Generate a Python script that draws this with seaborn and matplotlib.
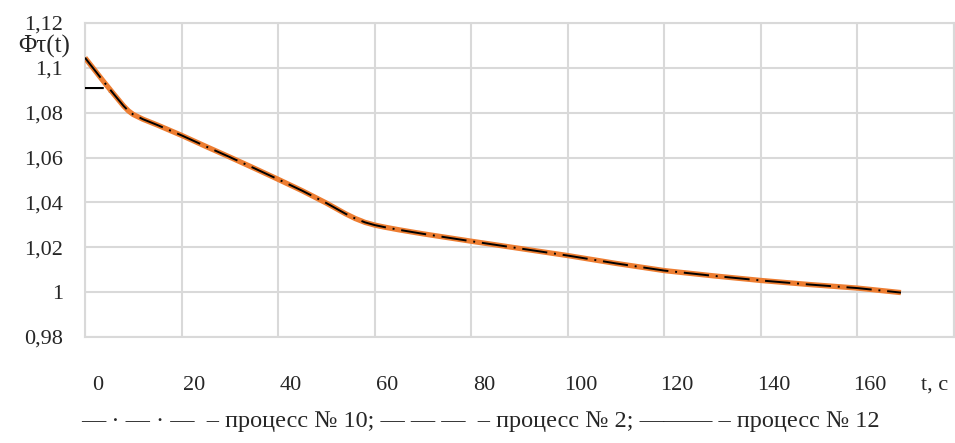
import matplotlib
matplotlib.use("Agg")
import matplotlib.pyplot as plt
import seaborn as sns
import pandas as pd

# ---- data ----
t = [0, 2, 4, 6, 7, 8, 9, 10, 12, 15, 20, 25, 30, 35, 40, 45, 50, 52, 54, 56,
     58, 60, 62, 65, 70, 80, 90, 100, 110, 120, 130, 140, 150, 160, 169]
phi12 = [1.1045, 1.0990, 1.0935, 1.0882, 1.0856, 1.0830, 1.0808, 1.0792, 1.0771,
         1.0745, 1.0699, 1.0650, 1.0602, 1.0553, 1.0503, 1.0452, 1.0397, 1.0373,
         1.0349, 1.0328, 1.0311, 1.0299, 1.0290, 1.0278, 1.0260, 1.0227, 1.0195,
         1.0163, 1.0128, 1.0096, 1.0073, 1.0052, 1.0034, 1.0018, 0.9998]
phi10 = [1.1045, 1.0990, 1.0935, 1.0882, 1.0856, 1.0830, 1.0808, 1.0792, 1.0771,
         1.0745, 1.0699, 1.0650, 1.0602, 1.0553, 1.0503, 1.0452, 1.0397, 1.0373,
         1.0349, 1.0328, 1.0311, 1.0299, 1.0290, 1.0278, 1.0260, 1.0227, 1.0195,
         1.0163, 1.0128, 1.0096, 1.0073, 1.0052, 1.0034, 1.0018, 0.9998]
phi2 = [1.0910, 1.0910, 1.0910, 1.0882, 1.0856, 1.0830, 1.0808, 1.0792, 1.0771,
        1.0745, 1.0699, 1.0650, 1.0602, 1.0553, 1.0503, 1.0452, 1.0397, 1.0373,
        1.0349, 1.0328, 1.0311, 1.0299, 1.0290, 1.0278, 1.0260, 1.0227, 1.0195,
        1.0163, 1.0128, 1.0096, 1.0073, 1.0052, 1.0034, 1.0018, 0.9998]

x_grid = [0, 20, 40, 60, 80, 100, 120, 140, 160, 180]
x_labels = ["0", "20", "40", "60", "80", "100", "120", "140", "160"]
y_ticks = [0.98, 1.00, 1.02, 1.04, 1.06, 1.08, 1.10, 1.12]
y_labels = ["0,98", "1", "1,02", "1,04", "1,06", "1,08", "1,1", "1,12"]
y_title = "Φτ(t)"
x_title = "t, c"
legend_text = ("— · — · —  – процесс № 10; — — —  – процесс № 2; "
               "——— – процесс № 12")

df = pd.DataFrame({"t": t, "p10": phi10, "p2": phi2, "p12": phi12})

sns.set_style("white")
plt.rcParams["font.family"] = ["Liberation Serif", "DejaVu Serif"]

fig = plt.figure(figsize=(9.55, 4.43), dpi=100)
ax = fig.add_axes([0.089, 0.2393, 0.910, 0.7088])

grid_c = "#d9d9d9"
sns.lineplot(data=df, x="t", y="p2", ax=ax, color="black", lw=1.5,
             zorder=3)
ax.lines[-1].set_dashes((9, 3))
sns.lineplot(data=df, x="t", y="p12", ax=ax, color="#ED7D31", lw=3.8,
             zorder=4, solid_capstyle="butt")
sns.lineplot(data=df, x="t", y="p10", ax=ax, color="black", lw=1.4,
             zorder=5)
ax.lines[-1].set_dashes((13, 3.5, 1, 3.5))

ax.set_xlim(0, 180)
ax.set_ylim(0.98, 1.12)
ax.set_xticks(x_grid)
ax.set_xticklabels([""] * len(x_grid))
ax.set_xticks([v + 2.6 for v in x_grid[:-1]] + [175.9], minor=True)
ax.set_xticklabels(x_labels + [x_title], minor=True)
ax.set_yticks(y_ticks)
ax.set_yticklabels(y_labels)
ax.tick_params(axis="x", which="both", length=0, labelsize=16)
ax.tick_params(axis="x", which="minor", pad=28)
ax.tick_params(axis="y", length=0, pad=16, labelsize=16)
ax.grid(True, which="major", color=grid_c, lw=1.5)
ax.set_axisbelow(True)
for s in ax.spines.values():
    s.set_color(grid_c)
    s.set_linewidth(1.5)
ax.set_xlabel("")
ax.set_ylabel("")

fig.text(44 / 955, 1 - 46 / 443, y_title, ha="center", va="center",
         fontsize=18)
fig.text(480 / 955, 1 - 421 / 443, legend_text, ha="center", va="center",
         fontsize=17.5)

fig.savefig("out.png", dpi=100)
